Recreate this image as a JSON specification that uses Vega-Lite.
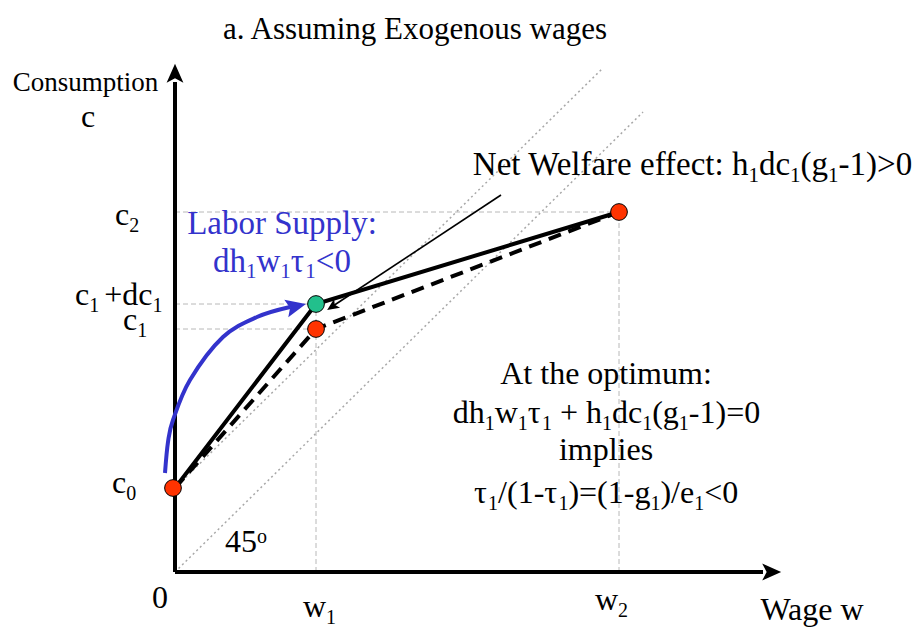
{
  "$schema": "https://vega.github.io/schema/vega-lite/v6.json",
  "width": 918,
  "height": 634,
  "autosize": "none",
  "padding": 0,
  "background": "white",
  "config": {"view": {"stroke": null}, "text": {"font": "Liberation Serif"}},
  "datasets": {
    "axes": [{"x": 0, "y": 0, "x2": 0, "y2": 4.9}, {"x": 0, "y": 0, "x2": 5.88, "y2": 0}],
    "yhead": [{"x": 0, "y": 4.97}],
    "xhead": [{"x": 5.95, "y": 0}],
    "guides": [
      {"x": 0, "y": 3.6, "x2": 4.44, "y2": 3.6},
      {"x": 0, "y": 2.68, "x2": 1.41, "y2": 2.68},
      {"x": 0, "y": 2.43, "x2": 1.41, "y2": 2.43},
      {"x": 1.41, "y": 0, "x2": 1.41, "y2": 2.68},
      {"x": 4.44, "y": 0, "x2": 4.44, "y2": 3.6}
    ],
    "diagonals": [
      {"x": 0, "y": 0, "x2": 4.68, "y2": 4.6},
      {"x": 0, "y": 0.84, "x2": 4.27, "y2": 5.03}
    ],
    "solid": [{"x": 0, "y": 0.84}, {"x": 1.41, "y": 2.68}, {"x": 4.44, "y": 3.6}],
    "dashed": [{"x": 0, "y": 0.84}, {"x": 1.41, "y": 2.43}, {"x": 4.44, "y": 3.6}],
    "red": [{"x": -0.02, "y": 0.84}, {"x": 1.41, "y": 2.43}, {"x": 4.44, "y": 3.6}],
    "green": [{"x": 1.41, "y": 2.68}],
    "curve": [
      {"x": -0.1, "y": 0.99},
      {"x": -0.07, "y": 1.3},
      {"x": -0.02, "y": 1.52},
      {"x": 0.15, "y": 1.92},
      {"x": 0.48, "y": 2.35},
      {"x": 0.82, "y": 2.55},
      {"x": 1.15, "y": 2.65}
    ],
    "bluehead": [{"x": 1.2, "y": 2.655}],
    "pointer": [{"x": 3.26, "y": 3.77, "x2": 1.58, "y2": 2.66}],
    "blackhead": [{"x": 1.58, "y": 2.66}],
    "texts": [
      {"x": 2.4, "y": 5.33, "label": "a. Assuming Exogenous wages", "g": "title"},
      {"x": -0.895, "y": 4.81, "label": "Consumption", "g": "small"},
      {"x": -0.87, "y": 4.45, "label": "c", "g": "c32"},
      {"x": -0.15, "y": -0.36, "label": "0", "g": "c32"},
      {"x": 6.37, "y": -0.48, "label": "Wage w", "g": "c32"},
      {"x": 4.31, "y": 1.88, "label": "At the optimum:", "g": "c32"},
      {"x": 4.31, "y": 1.12, "label": "implies", "g": "c32"},
      {"x": 1.07, "y": 3.38, "label": "Labor Supply:", "g": "bc33"},

      {"x": -0.6, "y": 3.47, "label": "c", "g": "m32"},
      {"x": -0.458, "y": 3.4, "label": "2", "g": "s20"},
      {"x": -1.0, "y": 2.67, "label": "c", "g": "m32"},
      {"x": -0.858, "y": 2.6, "label": "1", "g": "s20"},
      {"x": -0.708, "y": 2.67, "label": "+dc", "g": "m32"},
      {"x": -0.225, "y": 2.6, "label": "1", "g": "s20"},
      {"x": -0.52, "y": 2.42, "label": "c", "g": "m32"},
      {"x": -0.378, "y": 2.35, "label": "1", "g": "s20"},
      {"x": -0.63, "y": 0.79, "label": "c", "g": "m32"},
      {"x": -0.488, "y": 0.72, "label": "0", "g": "s20"},
      {"x": 1.28, "y": -0.45, "label": "w", "g": "m32"},
      {"x": 1.511, "y": -0.52, "label": "1", "g": "s20"},
      {"x": 4.2, "y": -0.38, "label": "w", "g": "m32"},
      {"x": 4.431, "y": -0.45, "label": "2", "g": "s20"},
      {"x": 0.5, "y": 0.2, "label": "45", "g": "m32"},
      {"x": 0.82, "y": 0.29, "label": "o", "g": "s20"},

      {"x": 5.4865, "y": 3.97, "label": "Net Welfare effect:", "g": "r33"},
      {"x": 5.569, "y": 3.97, "label": "h", "g": "m33"},
      {"x": 5.734, "y": 3.9, "label": "1", "g": "s21"},
      {"x": 5.839, "y": 3.97, "label": "dc", "g": "m33"},
      {"x": 6.151, "y": 3.9, "label": "1", "g": "s21"},
      {"x": 6.256, "y": 3.97, "label": "(g", "g": "m33"},
      {"x": 6.531, "y": 3.9, "label": "1", "g": "s21"},
      {"x": 6.636, "y": 3.97, "label": "-1)>0", "g": "m33"},

      {"x": 2.7775, "y": 1.49, "label": "dh", "g": "m32"},
      {"x": 3.0975, "y": 1.42, "label": "1", "g": "s20"},
      {"x": 3.1975, "y": 1.49, "label": "w", "g": "m32"},
      {"x": 3.4285, "y": 1.42, "label": "1", "g": "s20"},
      {"x": 3.5285, "y": 1.49, "label": "τ", "g": "m32"},
      {"x": 3.6695, "y": 1.42, "label": "1", "g": "s20"},
      {"x": 3.8495, "y": 1.49, "label": "+ h", "g": "m32"},
      {"x": 4.2695, "y": 1.42, "label": "1", "g": "s20"},
      {"x": 4.3695, "y": 1.49, "label": "dc", "g": "m32"},
      {"x": 4.6715, "y": 1.42, "label": "1", "g": "s20"},
      {"x": 4.7715, "y": 1.49, "label": "(g", "g": "m32"},
      {"x": 5.0385, "y": 1.42, "label": "1", "g": "s20"},
      {"x": 5.1385, "y": 1.49, "label": "-1)=0", "g": "m32"},

      {"x": 2.99, "y": 0.69, "label": "τ", "g": "m32"},
      {"x": 3.131, "y": 0.62, "label": "1", "g": "s20"},
      {"x": 3.231, "y": 0.69, "label": "/(1-τ", "g": "m32"},
      {"x": 3.834, "y": 0.62, "label": "1", "g": "s20"},
      {"x": 3.934, "y": 0.69, "label": ")=(1-g", "g": "m32"},
      {"x": 4.754, "y": 0.62, "label": "1", "g": "s20"},
      {"x": 4.854, "y": 0.69, "label": ")/e", "g": "m32"},
      {"x": 5.192, "y": 0.62, "label": "1", "g": "s20"},
      {"x": 5.292, "y": 0.69, "label": "<0", "g": "m32"},

      {"x": 0.38, "y": 3.0, "label": "dh", "g": "b33"},
      {"x": 0.71, "y": 2.94, "label": "1", "g": "bs21"},
      {"x": 0.815, "y": 3.0, "label": "w", "g": "b33"},
      {"x": 1.053, "y": 2.94, "label": "1", "g": "bs21"},
      {"x": 1.158, "y": 3.0, "label": "τ", "g": "b33"},
      {"x": 1.303, "y": 2.94, "label": "1", "g": "bs21"},
      {"x": 1.408, "y": 3.0, "label": "<0", "g": "b33"}
    ]
  },
  "encoding": {
    "x": {"field": "x", "type": "quantitative", "scale": {"domain": [-1.75, 7.43], "nice": false, "zero": false}, "axis": null},
    "y": {"field": "y", "type": "quantitative", "scale": {"domain": [-0.62, 5.72], "nice": false, "zero": false}, "axis": null}
  },
  "layer": [
    {"data": {"name": "diagonals"}, "mark": {"type": "rule", "color": "#a8a8a8", "strokeWidth": 1.5, "strokeDash": [2, 3]},
     "encoding": {"x2": {"field": "x2"}, "y2": {"field": "y2"}}},
    {"data": {"name": "guides"}, "mark": {"type": "rule", "color": "#b8b8b8", "strokeWidth": 1, "strokeDash": [5, 3]},
     "encoding": {"x2": {"field": "x2"}, "y2": {"field": "y2"}}},
    {"data": {"name": "axes"}, "mark": {"type": "rule", "color": "black", "strokeWidth": 4},
     "encoding": {"x2": {"field": "x2"}, "y2": {"field": "y2"}}},
    {"data": {"name": "yhead"}, "mark": {"type": "point", "shape": "M0,-1L0.75,0.7L0,0.3L-0.75,0.7Z", "filled": true, "color": "black", "opacity": 1, "size": 500, "angle": 0}},
    {"data": {"name": "xhead"}, "mark": {"type": "point", "shape": "M0,-1L0.75,0.7L0,0.3L-0.75,0.7Z", "filled": true, "color": "black", "opacity": 1, "size": 500, "angle": 90}},
    {"data": {"name": "dashed"}, "mark": {"type": "line", "color": "black", "strokeWidth": 4, "strokeDash": [13, 8]}},
    {"data": {"name": "solid"}, "mark": {"type": "line", "color": "black", "strokeWidth": 4}},
    {"data": {"name": "pointer"}, "mark": {"type": "rule", "color": "black", "strokeWidth": 1.6},
     "encoding": {"x2": {"field": "x2"}, "y2": {"field": "y2"}}},
    {"data": {"name": "blackhead"}, "mark": {"type": "point", "shape": "M0,-1L0.75,0.7L0,0.3L-0.75,0.7Z", "filled": true, "color": "black", "opacity": 1, "size": 200, "angle": 236}},
    {"data": {"name": "curve"}, "mark": {"type": "line", "color": "#3333cc", "strokeWidth": 4, "interpolate": "cardinal"}},
    {"data": {"name": "bluehead"}, "mark": {"type": "point", "shape": "M0,-1L0.8,0.8L0,0.45L-0.8,0.8Z", "filled": true, "color": "#3333cc", "opacity": 1, "size": 500, "angle": 77}},
    {"data": {"name": "red"}, "mark": {"type": "point", "shape": "circle", "filled": true, "fill": "#ff3300", "stroke": "black", "strokeWidth": 1, "opacity": 1, "size": 280}},
    {"data": {"name": "green"}, "mark": {"type": "point", "shape": "circle", "filled": true, "fill": "#22c08c", "stroke": "black", "strokeWidth": 1, "opacity": 1, "size": 280}},
    {"data": {"name": "texts"}, "transform": [{"filter": "datum.g === 'title'"}],
     "mark": {"type": "text", "fontSize": 31, "align": "center", "baseline": "alphabetic", "color": "black"},
     "encoding": {"text": {"field": "label"}}},
    {"data": {"name": "texts"}, "transform": [{"filter": "datum.g === 'small'"}],
     "mark": {"type": "text", "fontSize": 27, "align": "center", "baseline": "alphabetic", "color": "black"},
     "encoding": {"text": {"field": "label"}}},
    {"data": {"name": "texts"}, "transform": [{"filter": "datum.g === 'c32'"}],
     "mark": {"type": "text", "fontSize": 32, "align": "center", "baseline": "alphabetic", "color": "black"},
     "encoding": {"text": {"field": "label"}}},
    {"data": {"name": "texts"}, "transform": [{"filter": "datum.g === 'm32'"}],
     "mark": {"type": "text", "fontSize": 32, "align": "left", "baseline": "alphabetic", "color": "black"},
     "encoding": {"text": {"field": "label"}}},
    {"data": {"name": "texts"}, "transform": [{"filter": "datum.g === 's20'"}],
     "mark": {"type": "text", "fontSize": 20, "align": "left", "baseline": "alphabetic", "color": "black"},
     "encoding": {"text": {"field": "label"}}},
    {"data": {"name": "texts"}, "transform": [{"filter": "datum.g === 'm33'"}],
     "mark": {"type": "text", "fontSize": 33, "align": "left", "baseline": "alphabetic", "color": "black"},
     "encoding": {"text": {"field": "label"}}},
    {"data": {"name": "texts"}, "transform": [{"filter": "datum.g === 'r33'"}],
     "mark": {"type": "text", "fontSize": 33, "align": "right", "baseline": "alphabetic", "color": "black"},
     "encoding": {"text": {"field": "label"}}},
    {"data": {"name": "texts"}, "transform": [{"filter": "datum.g === 's21'"}],
     "mark": {"type": "text", "fontSize": 21, "align": "left", "baseline": "alphabetic", "color": "black"},
     "encoding": {"text": {"field": "label"}}},
    {"data": {"name": "texts"}, "transform": [{"filter": "datum.g === 'bc33'"}],
     "mark": {"type": "text", "fontSize": 33, "align": "center", "baseline": "alphabetic", "color": "#3333cc"},
     "encoding": {"text": {"field": "label"}}},
    {"data": {"name": "texts"}, "transform": [{"filter": "datum.g === 'b33'"}],
     "mark": {"type": "text", "fontSize": 33, "align": "left", "baseline": "alphabetic", "color": "#3333cc"},
     "encoding": {"text": {"field": "label"}}},
    {"data": {"name": "texts"}, "transform": [{"filter": "datum.g === 'bs21'"}],
     "mark": {"type": "text", "fontSize": 21, "align": "left", "baseline": "alphabetic", "color": "#3333cc"},
     "encoding": {"text": {"field": "label"}}}
  ]
}
